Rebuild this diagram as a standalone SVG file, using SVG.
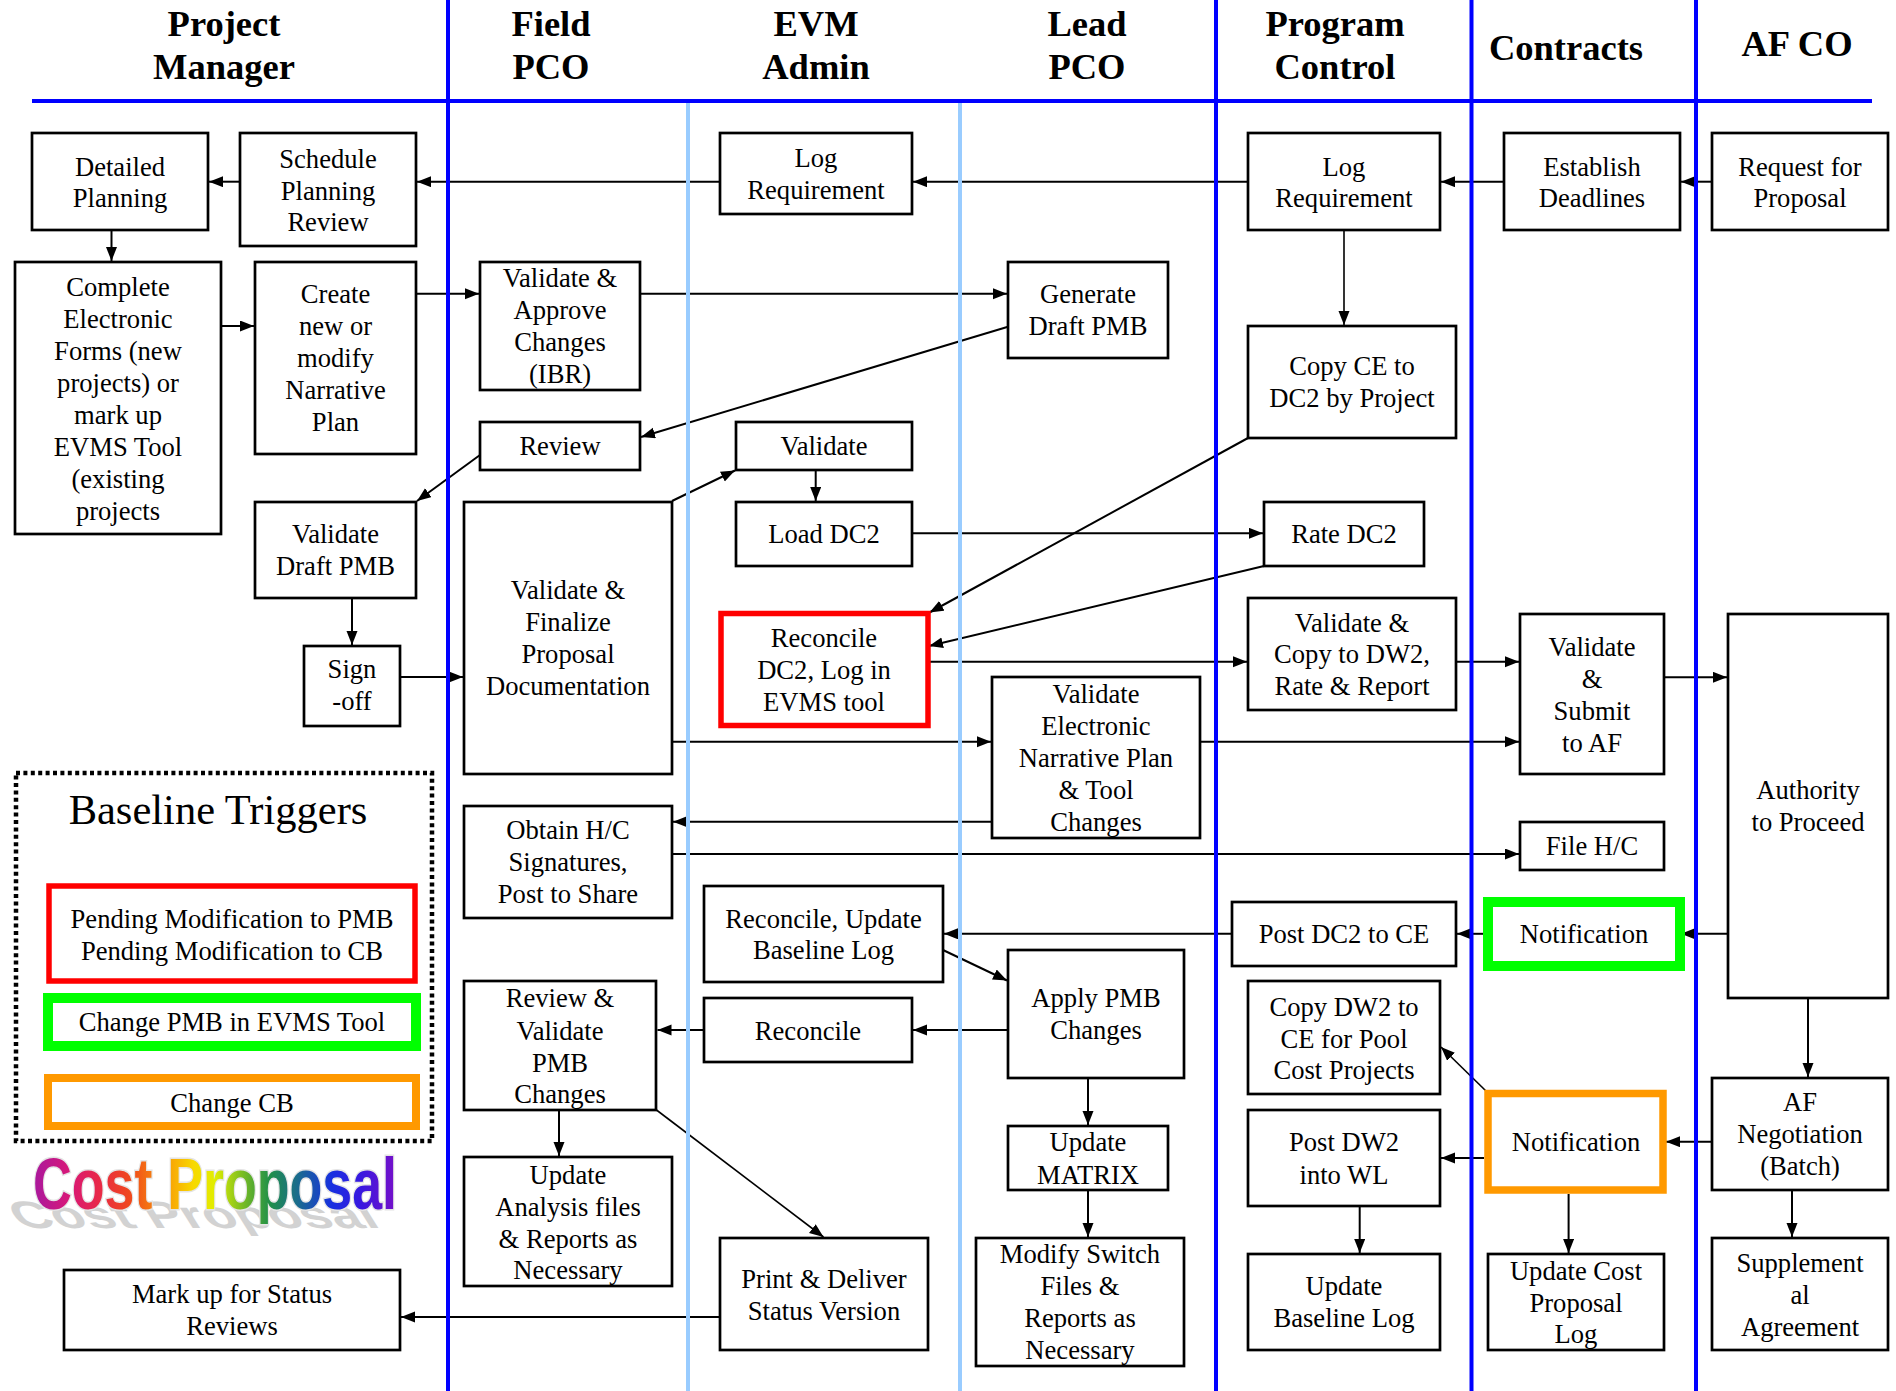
<svg xmlns="http://www.w3.org/2000/svg" width="1896" height="1391" viewBox="0 0 1896 1391">
  <defs>
    <style>
      .box { fill: #ffffff; stroke: #000000; stroke-width: 2.7; }
      .t { font-family: "Liberation Serif", "Times New Roman", serif; font-size: 26.6px; text-anchor: middle; fill: #000000; }
      .h { font-family: "Liberation Serif", "Times New Roman", serif; font-weight: bold; font-size: 36.5px; text-anchor: middle; fill: #000000; }
      .c { stroke: #000000; stroke-width: 2; fill: none; marker-end: url(#ah); }
      .lane { stroke: #0000ff; stroke-width: 4; }
      .sub { stroke: #99ccff; stroke-width: 4; }
    </style>
    <marker id="ah" markerUnits="userSpaceOnUse" markerWidth="15" markerHeight="12" refX="14" refY="5.5" orient="auto">
      <path d="M0,0 L14,5.5 L0,11 z" fill="#000000"/>
    </marker>
    <linearGradient id="rainbow" gradientUnits="userSpaceOnUse" x1="33" y1="0" x2="397" y2="0">
      <stop offset="0" stop-color="#a8189e"/>
      <stop offset="0.10" stop-color="#d81878"/>
      <stop offset="0.18" stop-color="#e82848"/>
      <stop offset="0.27" stop-color="#f04a1c"/>
      <stop offset="0.37" stop-color="#f8a008"/>
      <stop offset="0.44" stop-color="#f8d800"/>
      <stop offset="0.50" stop-color="#e0ee00"/>
      <stop offset="0.57" stop-color="#80c020"/>
      <stop offset="0.65" stop-color="#209048"/>
      <stop offset="0.73" stop-color="#1a6a90"/>
      <stop offset="0.82" stop-color="#1830e0"/>
      <stop offset="0.90" stop-color="#3818e0"/>
      <stop offset="1" stop-color="#7810c8"/>
    </linearGradient>
  </defs>

  <rect x="0" y="0" width="1896" height="1391" fill="#ffffff"/>

  <!-- column headings -->
  <g id="headers">
    <text class="h" x="224" y="36">Project</text>
    <text class="h" x="224" y="79">Manager</text>
    <text class="h" x="551" y="36">Field</text>
    <text class="h" x="551" y="79">PCO</text>
    <text class="h" x="816" y="36">EVM</text>
    <text class="h" x="816" y="79">Admin</text>
    <text class="h" x="1087" y="36">Lead</text>
    <text class="h" x="1087" y="79">PCO</text>
    <text class="h" x="1335" y="36">Program</text>
    <text class="h" x="1335" y="79">Control</text>
    <text class="h" x="1566" y="60">Contracts</text>
    <text class="h" x="1797" y="56">AF CO</text>
  </g>

  <!-- connectors -->
  <g id="connectors">
    <line class="c" x1="1712" y1="181.7" x2="1681" y2="181.7"/>
    <line class="c" x1="1504" y1="181.7" x2="1441" y2="181.7"/>
    <line class="c" x1="1248" y1="181.7" x2="913" y2="181.7"/>
    <line class="c" x1="720" y1="181.7" x2="417" y2="181.7"/>
    <line class="c" x1="240" y1="181.7" x2="209" y2="181.7"/>
    <line class="c" x1="111.5" y1="230" x2="111.5" y2="261"/>
    <line class="c" x1="221" y1="326" x2="254" y2="326"/>
    <line class="c" x1="416" y1="293.7" x2="479" y2="293.7"/>
    <line class="c" x1="640" y1="293.7" x2="1007" y2="293.7"/>
    <line class="c" x1="1344" y1="230" x2="1344" y2="325" style="stroke-width:1.6"/>
    <line class="c" x1="1008" y1="326.7" x2="641" y2="437"/>
    <line class="c" x1="480" y1="455" x2="417" y2="501"/>
    <line class="c" x1="352" y1="598" x2="352" y2="645"/>
    <line class="c" x1="400" y1="677" x2="463" y2="677"/>
    <line class="c" x1="672" y1="501" x2="735" y2="470.5"/>
    <line class="c" x1="815.7" y1="470" x2="815.7" y2="501"/>
    <line class="c" x1="912" y1="533.3" x2="1263" y2="533.3"/>
    <line class="c" x1="1248" y1="438" x2="929.5" y2="612.5"/>
    <line class="c" x1="1264" y1="566" x2="929" y2="646"/>
    <line class="c" x1="930" y1="661.7" x2="1247" y2="661.7"/>
    <line class="c" x1="1456" y1="661.7" x2="1519" y2="661.7"/>
    <line class="c" x1="1664" y1="677.3" x2="1727" y2="677.3"/>
    <line class="c" x1="672" y1="741.7" x2="991" y2="741.7"/>
    <line class="c" x1="1200" y1="741.7" x2="1519" y2="741.7"/>
    <line class="c" x1="992" y1="821.7" x2="673" y2="821.7"/>
    <line class="c" x1="672" y1="854" x2="1519" y2="854"/>
    <line class="c" x1="1728" y1="933.8" x2="1681" y2="933.8"/>
    <line class="c" x1="1483" y1="933.8" x2="1457" y2="933.8"/>
    <line class="c" x1="1232" y1="933.8" x2="944" y2="933.8"/>
    <line class="c" x1="943" y1="950" x2="1007" y2="980.5"/>
    <line class="c" x1="1008" y1="1030" x2="913" y2="1030"/>
    <line class="c" x1="704" y1="1030" x2="657.5" y2="1030"/>
    <line class="c" x1="559" y1="1110" x2="559" y2="1156"/>
    <line class="c" x1="656.5" y1="1110" x2="823.5" y2="1237" style="stroke-width:1.6"/>
    <line class="c" x1="720" y1="1317" x2="401" y2="1317"/>
    <line class="c" x1="1808" y1="998" x2="1808" y2="1077"/>
    <line class="c" x1="1712" y1="1141.7" x2="1666" y2="1141.7"/>
    <line class="c" x1="1484" y1="1158" x2="1441" y2="1158"/>
    <line class="c" x1="1488.3" y1="1093.3" x2="1441" y2="1047" style="stroke-width:1.6"/>
    <line class="c" x1="1568.6" y1="1194" x2="1568.6" y2="1253"/>
    <line class="c" x1="1792" y1="1190" x2="1792" y2="1237"/>
    <line class="c" x1="1088" y1="1078" x2="1088" y2="1125"/>
    <line class="c" x1="1088" y1="1190" x2="1088" y2="1237"/>
    <line class="c" x1="1359.7" y1="1206" x2="1359.7" y2="1253"/>
  </g>

  <!-- swimlane dividers -->
  <g id="lanes">
    <line class="sub" x1="688" y1="101" x2="688" y2="1391"/>
    <line class="sub" x1="960" y1="101" x2="960" y2="1391"/>
    <line class="lane" x1="448" y1="0" x2="448" y2="1391"/>
    <line class="lane" x1="1216" y1="0" x2="1216" y2="1391"/>
    <line class="lane" x1="1471.5" y1="0" x2="1471.5" y2="1391"/>
    <line class="lane" x1="1696" y1="0" x2="1696" y2="1391"/>
    <line class="lane" x1="32" y1="101" x2="1872" y2="101"/>
  </g>

  <!-- process steps -->
  <g id="n-detailed-planning">
    <rect class="box" x="32" y="133" width="176" height="97"/>
    <text class="t" x="120" y="175.5">Detailed</text>
    <text class="t" x="120" y="207">Planning</text>
  </g>
  <g id="n-schedule-planning-review">
    <rect class="box" x="240" y="133" width="176" height="113"/>
    <text class="t" x="328" y="167.5">Schedule</text>
    <text class="t" x="328" y="199.5">Planning</text>
    <text class="t" x="328" y="231">Review</text>
  </g>
  <g id="n-log-requirement-evm">
    <rect class="box" x="720" y="133" width="192" height="81"/>
    <text class="t" x="816" y="166.5">Log</text>
    <text class="t" x="816" y="199">Requirement</text>
  </g>
  <g id="n-log-requirement-pc">
    <rect class="box" x="1248" y="133" width="192" height="97"/>
    <text class="t" x="1344" y="175.5">Log</text>
    <text class="t" x="1344" y="207">Requirement</text>
  </g>
  <g id="n-establish-deadlines">
    <rect class="box" x="1504" y="133" width="176" height="97"/>
    <text class="t" x="1592" y="175.5">Establish</text>
    <text class="t" x="1592" y="207">Deadlines</text>
  </g>
  <g id="n-request-for-proposal">
    <rect class="box" x="1712" y="133" width="176" height="97"/>
    <text class="t" x="1800" y="175.5">Request for</text>
    <text class="t" x="1800" y="207">Proposal</text>
  </g>
  <g id="n-complete-forms">
    <rect class="box" x="15" y="262" width="206" height="272"/>
    <text class="t" x="118" y="296">Complete</text>
    <text class="t" x="118" y="328">Electronic</text>
    <text class="t" x="118" y="360">Forms (new</text>
    <text class="t" x="118" y="392">projects) or</text>
    <text class="t" x="118" y="424">mark up</text>
    <text class="t" x="118" y="456">EVMS Tool</text>
    <text class="t" x="118" y="488">(existing</text>
    <text class="t" x="118" y="520">projects</text>
  </g>
  <g id="n-create-narrative">
    <rect class="box" x="255" y="262" width="161" height="192"/>
    <text class="t" x="335.5" y="303">Create</text>
    <text class="t" x="335.5" y="335">new or</text>
    <text class="t" x="335.5" y="367">modify</text>
    <text class="t" x="335.5" y="399">Narrative</text>
    <text class="t" x="335.5" y="431">Plan</text>
  </g>
  <g id="n-validate-approve">
    <rect class="box" x="480" y="262" width="160" height="128"/>
    <text class="t" x="560" y="287">Validate &amp;</text>
    <text class="t" x="560" y="319">Approve</text>
    <text class="t" x="560" y="351">Changes</text>
    <text class="t" x="560" y="383">(IBR)</text>
  </g>
  <g id="n-generate-draft-pmb">
    <rect class="box" x="1008" y="262" width="160" height="96"/>
    <text class="t" x="1088" y="303">Generate</text>
    <text class="t" x="1088" y="335">Draft PMB</text>
  </g>
  <g id="n-copy-ce-dc2">
    <rect class="box" x="1248" y="326" width="208" height="112"/>
    <text class="t" x="1352" y="375">Copy CE to</text>
    <text class="t" x="1352" y="407">DC2 by Project</text>
  </g>
  <g id="n-review">
    <rect class="box" x="480" y="422" width="160" height="48"/>
    <text class="t" x="560" y="455">Review</text>
  </g>
  <g id="n-validate-evm">
    <rect class="box" x="736" y="422" width="176" height="48"/>
    <text class="t" x="824" y="455">Validate</text>
  </g>
  <g id="n-load-dc2">
    <rect class="box" x="736" y="502" width="176" height="64"/>
    <text class="t" x="824" y="543">Load DC2</text>
  </g>
  <g id="n-validate-draft-pmb">
    <rect class="box" x="255" y="502" width="161" height="96"/>
    <text class="t" x="335.5" y="543">Validate</text>
    <text class="t" x="335.5" y="575">Draft PMB</text>
  </g>
  <g id="n-sign-off">
    <rect class="box" x="304" y="646" width="96" height="80"/>
    <text class="t" x="352" y="678">Sign</text>
    <text class="t" x="352" y="710">-off</text>
  </g>
  <g id="n-validate-finalize">
    <rect class="box" x="464" y="502" width="208" height="272"/>
    <text class="t" x="568" y="599">Validate &amp;</text>
    <text class="t" x="568" y="631">Finalize</text>
    <text class="t" x="568" y="663">Proposal</text>
    <text class="t" x="568" y="695">Documentation</text>
  </g>
  <g id="n-reconcile-dc2">
    <rect x="721" y="613.5" width="207" height="112" fill="#ffffff" stroke="#ff0000" stroke-width="5.5"/>
    <text class="t" x="824" y="647">Reconcile</text>
    <text class="t" x="824" y="679">DC2, Log in</text>
    <text class="t" x="824" y="711">EVMS tool</text>
  </g>
  <g id="n-rate-dc2">
    <rect class="box" x="1264" y="502" width="160" height="64"/>
    <text class="t" x="1344" y="543">Rate DC2</text>
  </g>
  <g id="n-validate-copy-dw2">
    <rect class="box" x="1248" y="598" width="208" height="112"/>
    <text class="t" x="1352" y="631.5">Validate &amp;</text>
    <text class="t" x="1352" y="663">Copy to DW2,</text>
    <text class="t" x="1352" y="695">Rate &amp; Report</text>
  </g>
  <g id="n-validate-submit">
    <rect class="box" x="1520" y="614" width="144" height="160"/>
    <text class="t" x="1592" y="655.5">Validate</text>
    <text class="t" x="1592" y="687.5">&amp;</text>
    <text class="t" x="1592" y="719.5">Submit</text>
    <text class="t" x="1592" y="751.5">to AF</text>
  </g>
  <g id="n-authority-to-proceed">
    <rect class="box" x="1728" y="614" width="160" height="384"/>
    <text class="t" x="1808" y="799">Authority</text>
    <text class="t" x="1808" y="831">to Proceed</text>
  </g>
  <g id="n-validate-electronic">
    <rect class="box" x="992" y="677" width="208" height="161"/>
    <text class="t" x="1096" y="703">Validate</text>
    <text class="t" x="1096" y="735">Electronic</text>
    <text class="t" x="1096" y="767">Narrative Plan</text>
    <text class="t" x="1096" y="799">&amp; Tool</text>
    <text class="t" x="1096" y="831">Changes</text>
  </g>
  <g id="n-file-hc">
    <rect class="box" x="1520" y="822" width="144" height="48"/>
    <text class="t" x="1592" y="855">File H/C</text>
  </g>
  <g id="n-obtain-hc">
    <rect class="box" x="464" y="806" width="208" height="112"/>
    <text class="t" x="568" y="839">Obtain H/C</text>
    <text class="t" x="568" y="871">Signatures,</text>
    <text class="t" x="568" y="903">Post to Share</text>
  </g>
  <g id="n-reconcile-update-log">
    <rect class="box" x="704" y="886" width="239" height="96"/>
    <text class="t" x="823.5" y="927.5">Reconcile, Update</text>
    <text class="t" x="823.5" y="959">Baseline Log</text>
  </g>
  <g id="n-review-validate-pmb">
    <rect class="box" x="464" y="981" width="192" height="129"/>
    <text class="t" x="560" y="1007">Review &amp;</text>
    <text class="t" x="560" y="1039.5">Validate</text>
    <text class="t" x="560" y="1071.5">PMB</text>
    <text class="t" x="560" y="1103">Changes</text>
  </g>
  <g id="n-reconcile">
    <rect class="box" x="704" y="998" width="208" height="64"/>
    <text class="t" x="808" y="1039.5">Reconcile</text>
  </g>
  <g id="n-update-analysis">
    <rect class="box" x="464" y="1157" width="208" height="129"/>
    <text class="t" x="568" y="1183.5">Update</text>
    <text class="t" x="568" y="1215.5">Analysis files</text>
    <text class="t" x="568" y="1247.5">&amp; Reports as</text>
    <text class="t" x="568" y="1279">Necessary</text>
  </g>
  <g id="n-print-deliver">
    <rect class="box" x="720" y="1238" width="208" height="112"/>
    <text class="t" x="824" y="1287.5">Print &amp; Deliver</text>
    <text class="t" x="824" y="1319.5">Status Version</text>
  </g>
  <g id="n-mark-up-status">
    <rect class="box" x="64" y="1270" width="336" height="80"/>
    <text class="t" x="232" y="1302.5">Mark up for Status</text>
    <text class="t" x="232" y="1335">Reviews</text>
  </g>
  <g id="n-post-dc2-ce">
    <rect class="box" x="1232" y="902" width="224" height="64"/>
    <text class="t" x="1344" y="943">Post DC2 to CE</text>
  </g>
  <g id="n-notification-pmb">
    <rect x="1488" y="902" width="192" height="64" fill="#ffffff" stroke="#00ff00" stroke-width="10"/>
    <text class="t" x="1584" y="943">Notification</text>
  </g>
  <g id="n-apply-pmb">
    <rect class="box" x="1008" y="950" width="176" height="128"/>
    <text class="t" x="1096" y="1007">Apply PMB</text>
    <text class="t" x="1096" y="1039">Changes</text>
  </g>
  <g id="n-copy-dw2-ce">
    <rect class="box" x="1248" y="981" width="192" height="113"/>
    <text class="t" x="1344" y="1015.5">Copy DW2 to</text>
    <text class="t" x="1344" y="1047.5">CE for Pool</text>
    <text class="t" x="1344" y="1079">Cost Projects</text>
  </g>
  <g id="n-notification-cb">
    <rect x="1488" y="1093.5" width="175" height="96.5" fill="#ffffff" stroke="#ff9900" stroke-width="7.5"/>
    <text class="t" x="1576" y="1151">Notification</text>
  </g>
  <g id="n-af-negotiation">
    <rect class="box" x="1712" y="1078" width="176" height="112"/>
    <text class="t" x="1800" y="1111">AF</text>
    <text class="t" x="1800" y="1143">Negotiation</text>
    <text class="t" x="1800" y="1175">(Batch)</text>
  </g>
  <g id="n-update-matrix">
    <rect class="box" x="1008" y="1126" width="160" height="64"/>
    <text class="t" x="1088" y="1151">Update</text>
    <text class="t" x="1088" y="1183.5">MATRIX</text>
  </g>
  <g id="n-post-dw2-wl">
    <rect class="box" x="1248" y="1110" width="192" height="96"/>
    <text class="t" x="1344" y="1151">Post DW2</text>
    <text class="t" x="1344" y="1183.5">into WL</text>
  </g>
  <g id="n-modify-switch">
    <rect class="box" x="976" y="1238" width="208" height="128"/>
    <text class="t" x="1080" y="1263">Modify Switch</text>
    <text class="t" x="1080" y="1295">Files &amp;</text>
    <text class="t" x="1080" y="1327">Reports as</text>
    <text class="t" x="1080" y="1359">Necessary</text>
  </g>
  <g id="n-update-baseline-log">
    <rect class="box" x="1248" y="1254" width="192" height="96"/>
    <text class="t" x="1344" y="1295">Update</text>
    <text class="t" x="1344" y="1327">Baseline Log</text>
  </g>
  <g id="n-update-cost-proposal-log">
    <rect class="box" x="1488" y="1254" width="176" height="96"/>
    <text class="t" x="1576" y="1280">Update Cost</text>
    <text class="t" x="1576" y="1311.5">Proposal</text>
    <text class="t" x="1576" y="1343">Log</text>
  </g>
  <g id="n-supplemental-agreement">
    <rect class="box" x="1712" y="1238" width="176" height="112"/>
    <text class="t" x="1800" y="1271.5">Supplement</text>
    <text class="t" x="1800" y="1303.5">al</text>
    <text class="t" x="1800" y="1336">Agreement</text>
  </g>

  <!-- legend -->
  <g id="legend">
    <rect x="16" y="773" width="416" height="368" fill="none" stroke="#000000" stroke-width="4.5" stroke-dasharray="4 3.4"/>
    <text x="218" y="824" style="font-family:'Liberation Serif','Times New Roman',serif;font-size:42.5px;text-anchor:middle">Baseline Triggers</text>
    <rect x="49" y="886" width="366" height="95" fill="#ffffff" stroke="#ff0000" stroke-width="5.5"/>
    <text class="t" x="232" y="927.5">Pending Modification to PMB</text>
    <text class="t" x="232" y="960">Pending Modification to CB</text>
    <rect x="48" y="998" width="368" height="48" fill="#ffffff" stroke="#00ff00" stroke-width="10"/>
    <text class="t" x="232" y="1031">Change PMB in EVMS Tool</text>
    <rect x="48" y="1078" width="368" height="48" fill="#ffffff" stroke="#ff9900" stroke-width="8"/>
    <text class="t" x="232" y="1112">Change CB</text>
  </g>

  <!-- title art: flattened ground shadow, then the rainbow lettering -->
  <g id="title-art">
    <text x="0" y="0" transform="translate(20,1228) skewX(32) scale(1,0.55)" textLength="362" lengthAdjust="spacingAndGlyphs" style="font-family:'Liberation Sans',Arial,sans-serif;font-weight:bold;font-size:70px;fill:#d2d2d2">Cost Proposal</text>
    <text x="33" y="1208.5" textLength="364" lengthAdjust="spacingAndGlyphs" style="font-family:'Liberation Sans',Arial,sans-serif;font-weight:bold;font-size:72px;fill:url(#rainbow);stroke:#e4e4e4;stroke-width:3;paint-order:stroke">Cost Proposal</text>
  </g>
</svg>
